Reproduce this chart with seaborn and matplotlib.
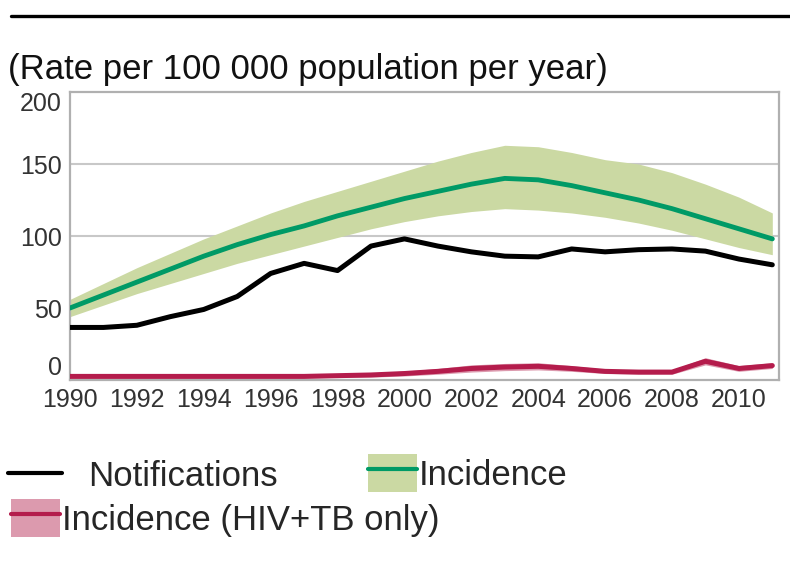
import matplotlib
matplotlib.use('Agg')
import matplotlib.pyplot as plt
import pandas as pd
import seaborn as sns
from matplotlib.lines import Line2D
from matplotlib.patches import Patch
from matplotlib.legend_handler import HandlerTuple

# data (rate per 100 000 population per year)
years = list(range(1990, 2012))
notifications = [36.5, 36.5, 38, 44, 49, 58, 74, 81, 76, 93, 98, 93, 89, 86, 85.5, 91,
                 89, 90.5, 91, 89.5, 84, 80]
incidence = [50, 59, 68, 77, 86, 94, 101, 107, 114, 120, 126, 131, 136, 140, 139, 135,
             130, 125, 119, 112, 105, 98]
incidence_lo = [44, 52, 60, 67, 74, 81, 87, 93, 99, 105, 110, 114, 117, 119, 118, 116,
                113, 109, 104, 98, 92, 87]
incidence_hi = [56, 67, 78, 88, 98, 107, 116, 124, 131, 138, 145, 152, 158, 163, 162, 158,
                153, 150, 144, 136, 127, 116]
hiv_tb = [2.5, 2.5, 2.5, 2.5, 2.5, 2.5, 2.5, 2.5, 3, 3.5, 4.5, 6, 8, 9, 9.5, 8,
          6, 5.5, 5.5, 13, 8, 10]
hiv_tb_lo = [1.5, 1.5, 1.5, 1.5, 1.5, 1.5, 1.5, 1.5, 1.8, 2, 2.8, 4, 5.5, 6.5, 7, 6,
             4.5, 4, 4, 10.5, 6, 8]
hiv_tb_hi = [3.5, 3.5, 3.5, 3.5, 3.5, 3.5, 3.5, 3.5, 4.2, 5, 6.2, 8, 10.5, 11.5, 12, 10,
             7.5, 7, 7, 15.5, 10, 12]

xtick_years = list(range(1990, 2011, 2))
yticks = [0, 50, 100, 150, 200]

df = pd.DataFrame({'year': years, 'notif': notifications, 'inc': incidence,
                   'inc_lo': incidence_lo, 'inc_hi': incidence_hi,
                   'hiv': hiv_tb, 'hiv_lo': hiv_tb_lo, 'hiv_hi': hiv_tb_hi})

sns.set_style('white')
plt.rcParams['font.family'] = ['Liberation Sans', 'DejaVu Sans']

green_band = '#cbd9a3'
green_line = '#009a66'
pink_band = '#dc9aae'
red_line = '#b41c4c'

fig = plt.figure(figsize=(7.9, 5.62), dpi=100)
ax = fig.add_axes([70 / 790, 1 - 380 / 562, 709 / 790, 288 / 562])

for v in [100, 150]:
    ax.axhline(v, color='#c8c8c8', lw=1.5, zorder=0)

ax.fill_between(df['year'], df['inc_lo'], df['inc_hi'], color=green_band, lw=0, zorder=1)
ax.fill_between(df['year'], df['hiv_lo'], df['hiv_hi'], color=pink_band, lw=0, zorder=1)
sns.lineplot(data=df, x='year', y='inc', color=green_line, lw=3.5, ax=ax, zorder=3)
sns.lineplot(data=df, x='year', y='notif', color='black', lw=3.6, ax=ax, zorder=3)
sns.lineplot(data=df, x='year', y='hiv', color=red_line, lw=3.6, ax=ax, zorder=3)

ax.set_xlim(1990, 2011.2)
ax.set_ylim(0, 200)
ax.set_xticks(xtick_years)
ax.set_yticks(yticks)
ax.tick_params(axis='both', length=0, labelsize=18, colors='#333333', pad=6)
ax.set_xlabel('')
ax.set_ylabel('')
ylabels = ax.get_yticklabels()
ylabels[0].set_va('bottom')
ylabels[-1].set_va('top')
for s in ax.spines.values():
    s.set_color('#b0b0b0')
    s.set_linewidth(1.6)

# top rule and title
fig.add_artist(Line2D([11 / 790, 1], [1 - 16 / 562, 1 - 16 / 562], color='black', lw=2.4,
                      transform=fig.transFigure))
fig.text(8 / 790, 1 - 70 / 562, '(Rate per 100 000 population per year)', fontsize=25,
         va='center', ha='left', color='#111111')

# legend entries
lfs = 25
tup = {tuple: HandlerTuple(ndivide=1, pad=0)}
fig.legend(handles=[Line2D([], [], color='black', lw=3)], labels=['Notifications'],
           loc='center left', bbox_to_anchor=(8 / 790, 1 - 476 / 562), frameon=False,
           fontsize=lfs, handlelength=1.55, handletextpad=0.75, borderpad=0, borderaxespad=0)
fig.legend(handles=[(Patch(color=green_band, lw=0), Line2D([], [], color=green_line, lw=3))],
           labels=['Incidence'], handler_map=tup,
           loc='center left', bbox_to_anchor=(368 / 790, 1 - 473 / 562), frameon=False,
           fontsize=lfs, handlelength=1.4, handleheight=1.3, handletextpad=0.06,
           borderpad=0, borderaxespad=0)
fig.legend(handles=[(Patch(color=pink_band, lw=0), Line2D([], [], color=red_line, lw=3))],
           labels=['Incidence (HIV+TB only)'], handler_map=tup,
           loc='center left', bbox_to_anchor=(11 / 790, 1 - 518 / 562), frameon=False,
           fontsize=lfs, handlelength=1.4, handleheight=1.3, handletextpad=0.06,
           borderpad=0, borderaxespad=0)

fig.savefig('out.png', dpi=100)
